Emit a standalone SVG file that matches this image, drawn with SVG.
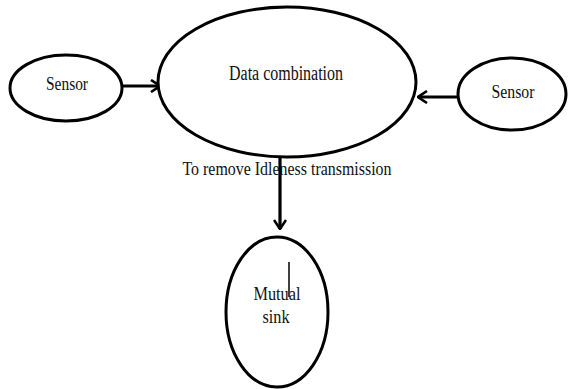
<svg xmlns="http://www.w3.org/2000/svg" width="568" height="389" viewBox="0 0 568 389">
<style>
.n{fill:#fff;stroke:#000;stroke-width:3}
.t{font-family:"Liberation Serif","Times New Roman",serif;fill:#111;text-anchor:middle}
.c{stroke:#000;stroke-width:3.2;fill:none}
</style>
<defs>
<marker id="ah" viewBox="0 0 12 14" refX="11" refY="7" markerWidth="12" markerHeight="14" markerUnits="userSpaceOnUse" orient="auto">
<polyline points="2,1 11,7 2,13" fill="none" stroke="#000" stroke-width="2.6"/>
</marker>
</defs>
<rect width="568" height="389" fill="#fff"/>
<g id="connectors">
<line class="c" x1="122" y1="86" x2="160" y2="86" marker-end="url(#ah)"/>
<line class="c" x1="458" y1="97" x2="418" y2="97" marker-end="url(#ah)"/>
<line class="c" x1="280" y1="157" x2="280" y2="229" marker-end="url(#ah)"/>
</g>
<g id="sensor-left">
<ellipse class="n" cx="66" cy="88" rx="56" ry="33"/>
<text class="t" x="67" y="90" font-size="19" textLength="42" lengthAdjust="spacingAndGlyphs">Sensor</text>
</g>
<g id="data-combination">
<ellipse class="n" cx="287" cy="82" rx="129" ry="75"/>
<text class="t" x="286" y="80" font-size="20" textLength="114" lengthAdjust="spacingAndGlyphs">Data combination</text>
</g>
<g id="sensor-right">
<ellipse class="n" cx="512" cy="94" rx="54" ry="36"/>
<text class="t" x="513" y="98" font-size="19" textLength="43" lengthAdjust="spacingAndGlyphs">Sensor</text>
</g>
<g id="label-transmission">
<text class="t" x="287" y="175" font-size="19" textLength="209" lengthAdjust="spacingAndGlyphs">To remove Idleness transmission</text>
</g>
<g id="mutual-sink">
<ellipse class="n" cx="277" cy="312" rx="51" ry="75"/>
<text class="t" x="277" y="300" font-size="19" textLength="47" lengthAdjust="spacingAndGlyphs">Mutual</text>
<text class="t" x="276" y="323" font-size="19" textLength="27" lengthAdjust="spacingAndGlyphs">sink</text>
<line x1="289" y1="262" x2="289" y2="297" stroke="#000" stroke-width="1.5"/>
</g>
</svg>
